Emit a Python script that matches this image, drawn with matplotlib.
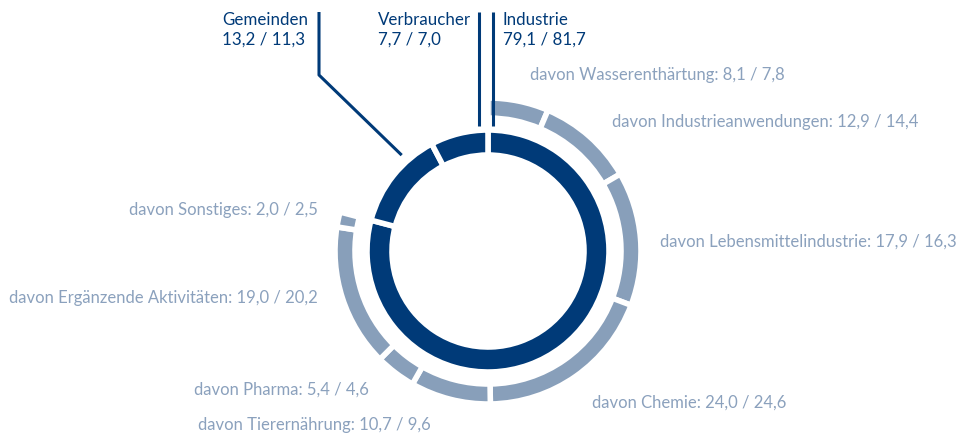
import numpy as np
import matplotlib.pyplot as plt

# Anteile in % (erster Wert / zweiter Wert)
main_labels = ["Industrie", "Gemeinden", "Verbraucher"]
main_a = [79.1, 13.2, 7.7]
main_b = [81.7, 11.3, 7.0]

sub_labels = ["Wasserenthärtung", "Industrieanwendungen", "Lebensmittelindustrie",
              "Chemie", "Tierernährung", "Pharma", "Ergänzende Aktivitäten", "Sonstiges"]
sub_a = [8.1, 12.9, 17.9, 24.0, 10.7, 5.4, 19.0, 2.0]
sub_b = [7.8, 14.4, 16.3, 24.6, 9.6, 4.6, 20.2, 2.5]

DARK = "#003a78"
LIGHT = "#889fba"
TEXT_LIGHT = "#8ba1bd"

plt.rcParams['font.family'] = ['Lato', 'DejaVu Sans']

W, H = 958, 434
fig = plt.figure(figsize=(W / 100, H / 100), dpi=100)
ax = fig.add_axes([0, 0, 1, 1])

cx, cy = 488, H - 251
fmt = lambda v: f"{v:.1f}".replace(".", ",")

# innerer Ring
ax.pie(main_a, center=(cx, cy), radius=121, startangle=90, counterclock=False,
       colors=[DARK] * 3, frame=True,
       wedgeprops=dict(width=25, edgecolor="white", linewidth=4))

# äußerer Ring: Aufteilung der Industrie
ind = main_a[0]
outer = [v * ind / 100 for v in sub_a] + [100 - ind]
wedges, _ = ax.pie(outer, center=(cx, cy), radius=153, startangle=90, counterclock=False,
                   colors=[LIGHT] * len(sub_a) + ["none"], frame=True,
                   wedgeprops=dict(width=20, edgecolor="white", linewidth=4))
wedges[-1].set_edgecolor("none")


def pt(angle, r):
    a = np.deg2rad(angle)
    return cx + r * np.cos(a), cy + r * np.sin(a)


# Hauptbeschriftungen mit Leader-Linien
top = H - 12
for name, a, b, x in zip(main_labels, main_a, main_b, [503, 222, 378]):
    ax.text(x, H - 20, name, color=DARK, fontsize=12.2, ha="left", va="center")
    ax.text(x, H - 40, f"{fmt(a)} / {fmt(b)}", color=DARK, fontsize=12.2, ha="left", va="center")

lw = 2.2
ax.plot([493, 493], [top, H - 126], color=DARK, lw=lw, solid_capstyle="butt")
ax.plot([479, 479], [top, H - 126], color=DARK, lw=lw, solid_capstyle="butt")
gx, gy = pt(132, 129)
ax.plot([319, 319, gx], [top, H - 75, gy], color=DARK, lw=lw, solid_capstyle="butt")

# Unterbeschriftungen
sub_pos = [(530, 75, "left"), (612, 122, "left"), (660, 242, "left"), (592, 403, "left"),
           (198, 425, "left"), (194, 390, "left"), (318, 298, "right"), (318, 210, "right")]
for name, a, b, (x, y, ha) in zip(sub_labels, sub_a, sub_b, sub_pos):
    ax.text(x, H - y, f"davon {name}: {fmt(a)} / {fmt(b)}", color=TEXT_LIGHT,
            fontsize=12, ha=ha, va="center")

ax.set_xlim(0, W)
ax.set_ylim(0, H)
ax.set_aspect("equal")
ax.axis("off")

fig.savefig("out.png", dpi=100, facecolor="white")
